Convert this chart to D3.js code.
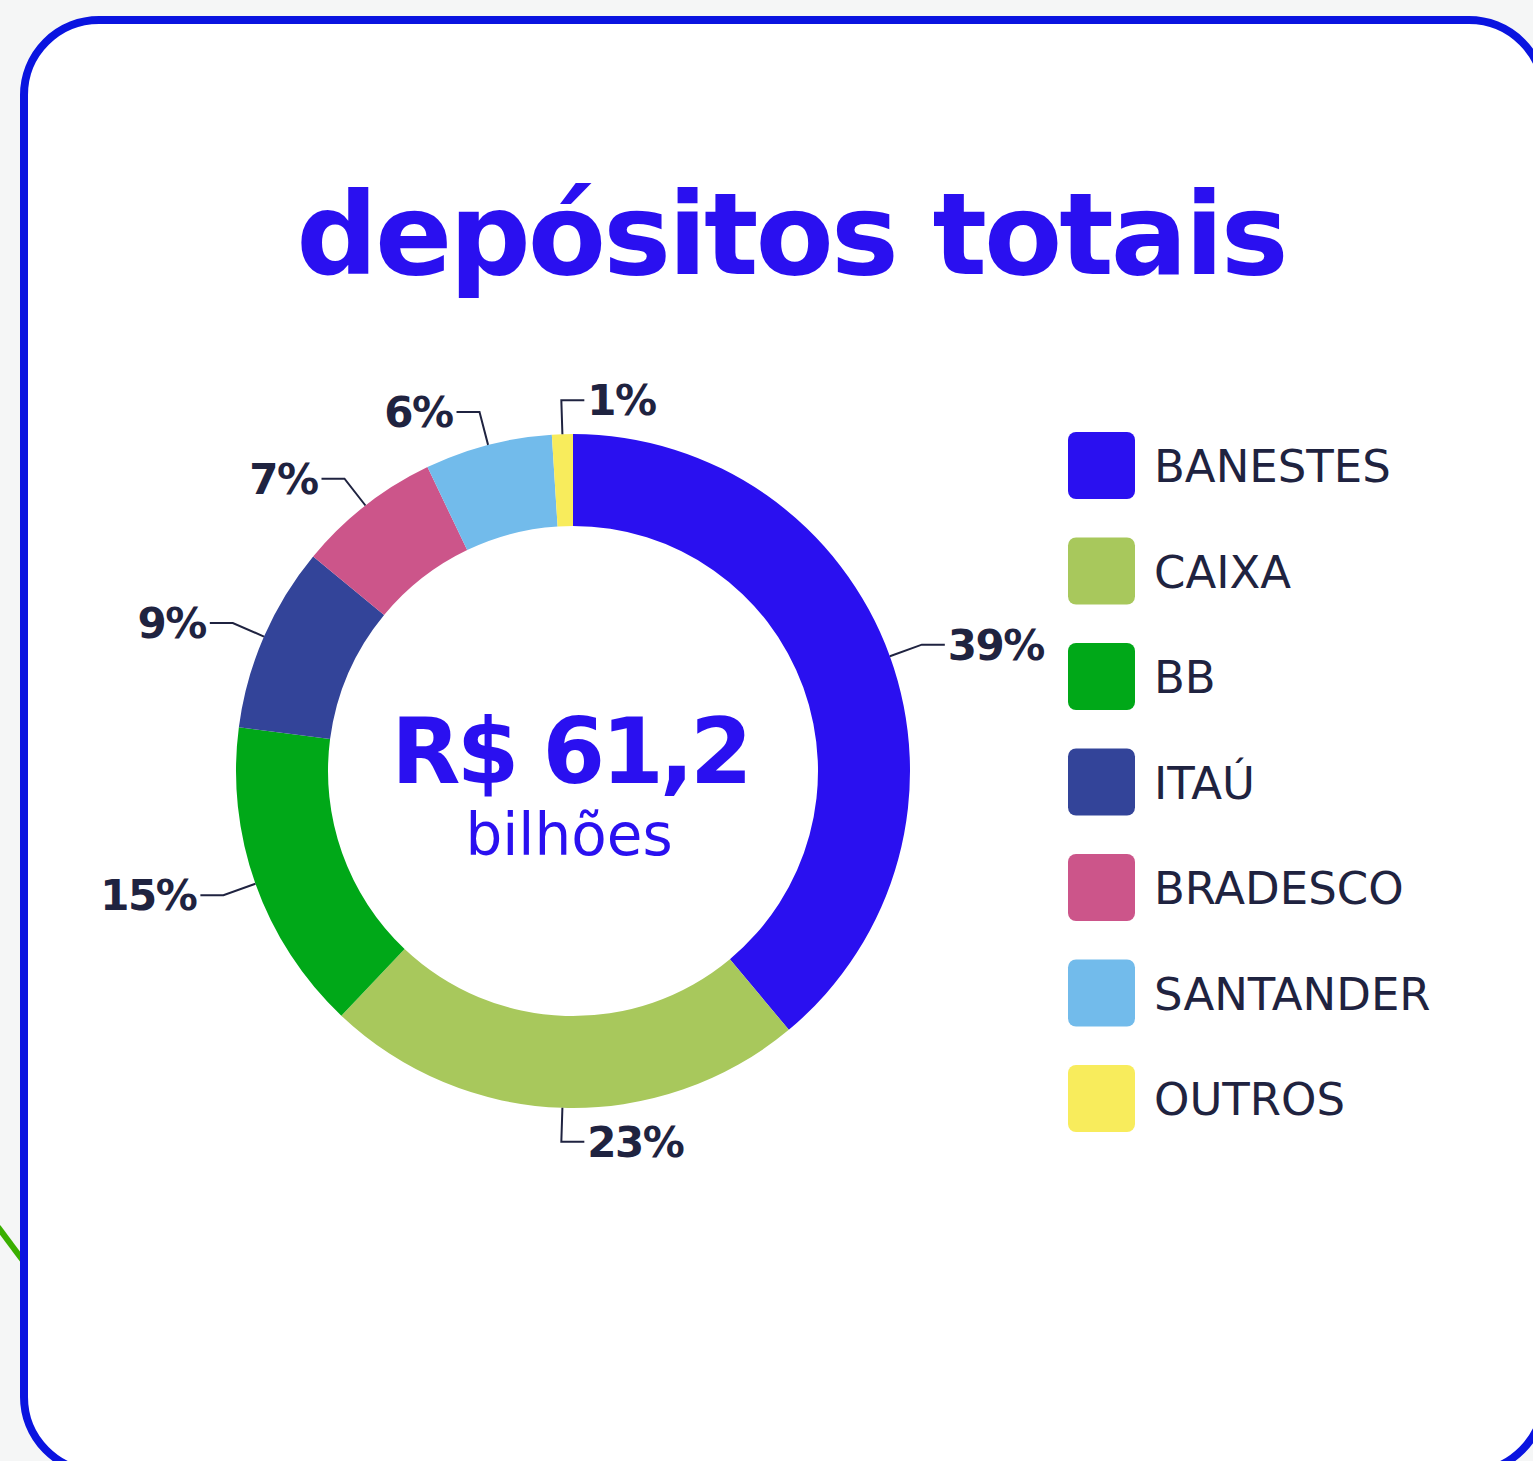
<!DOCTYPE html>
<html>
<head>
<meta charset="utf-8">
<script src="https://cdn.jsdelivr.net/npm/d3@7"></script>
<style>
  html, body { margin: 0; padding: 0; background: #f5f6f6; }
  svg { display: block; }
</style>
</head>
<body>
<div id="chart"></div>
<script>
// Data
var banks  = ["BANESTES", "CAIXA", "BB", "ITAÚ", "BRADESCO", "SANTANDER", "OUTROS"];
var shares = [38.9, 23.1, 15.0, 8.9, 6.9, 6.1, 1.0];
var colors = ["#2a10f0", "#a8c85c", "#00a818", "#334499", "#cc558a", "#72bbeb", "#f8ec5c"];
var title = "depósitos totais";
var total = "R$ 61,2";
var unit = "bilhões";

var W = 1533, H = 1461;
var font = "'DejaVu Sans', 'Open Sans', sans-serif";
var ink = "#1f2340";
var blue = "#2a10f0";

var svg = d3.select("#chart")
  .append("svg")
    .attr("width", W)
    .attr("height", H);

// background
svg.append("rect").attr("width", W).attr("height", H).attr("fill", "#f5f6f6");
svg.append("line")
  .attr("x1", -2).attr("y1", 1227).attr("x2", 24).attr("y2", 1262)
  .attr("stroke", "#3aaf00").attr("stroke-width", 6);

// card
svg.append("rect")
  .attr("x", 24).attr("y", 20)
  .attr("width", 1520).attr("height", 1452)
  .attr("rx", 75)
  .attr("fill", "#fff")
  .attr("stroke", "#0a14e0")
  .attr("stroke-width", 8);

// title
svg.append("text")
  .attr("x", 791).attr("y", 274)
  .attr("text-anchor", "middle")
  .attr("font-family", font)
  .attr("font-weight", 800)
  .attr("font-size", 114)
  .attr("letter-spacing", -3)
  .attr("fill", blue)
  .text(title);

// donut
var cx = 573, cy = 771, rOuter = 337, rInner = 245;
var g = svg.append("g").attr("transform", "translate(" + cx + "," + cy + ")");

var pie = d3.pie().sort(null).value(function(d) { return d; });
var arcs = pie(shares);
var arc = d3.arc().innerRadius(rInner).outerRadius(rOuter);

g.selectAll("path.slice")
  .data(arcs)
  .enter()
  .append("path")
    .attr("class", "slice")
    .attr("d", arc)
    .attr("fill", function(d, i) { return colors[i]; });

// labels with crooked connectors
function labelGeom(d) {
  var a = (d.startAngle + d.endAngle) / 2;
  // labels near the top/bottom seam go to the right
  var right = a < Math.PI * 1.02 || a > Math.PI * 1.98;
  var p0 = [Math.sin(a) * rOuter, -Math.cos(a) * rOuter];
  var p1 = [Math.sin(a) * (rOuter + 34), -Math.cos(a) * (rOuter + 34)];
  var p2 = [p1[0] + (right ? 23 : -23), p1[1]];
  return { right: right, pts: [p0, p1, p2] };
}

g.selectAll("path.conn")
  .data(arcs)
  .enter()
  .append("path")
    .attr("class", "conn")
    .attr("d", function(d) { return d3.line()(labelGeom(d).pts); })
    .attr("fill", "none")
    .attr("stroke", ink)
    .attr("stroke-width", 2);

g.selectAll("text.pct")
  .data(arcs)
  .enter()
  .append("text")
    .attr("class", "pct")
    .attr("x", function(d) { var l = labelGeom(d); return l.pts[2][0] + (l.right ? 3 : -4); })
    .attr("y", function(d) { return labelGeom(d).pts[2][1]; })
    .attr("dy", "0.36em")
    .attr("text-anchor", function(d) { return labelGeom(d).right ? "start" : "end"; })
    .attr("font-family", font)
    .attr("font-weight", 700)
    .attr("font-size", 42)
    .attr("letter-spacing", -1.5)
    .attr("fill", ink)
    .text(function(d) { return Math.round(d.value) + "%"; });

// center text
g.append("text")
  .attr("x", -3).attr("y", 12)
  .attr("text-anchor", "middle")
  .attr("font-family", font)
  .attr("font-weight", 700)
  .attr("font-size", 90)
  .attr("letter-spacing", -4)
  .attr("fill", blue)
  .text(total);

g.append("text")
  .attr("x", -4).attr("y", 84)
  .attr("text-anchor", "middle")
  .attr("font-family", font)
  .attr("font-size", 58)
  .attr("fill", blue)
  .text(unit);

// legend
var y = d3.scalePoint().domain(banks).range([466, 1099]);
var legend = svg.append("g")
  .selectAll("g")
  .data(banks)
  .enter()
  .append("g")
    .attr("transform", function(d) { return "translate(1068," + y(d) + ")"; });

legend.append("rect")
  .attr("x", 0).attr("y", -34)
  .attr("width", 67).attr("height", 67)
  .attr("rx", 8)
  .attr("fill", function(d, i) { return colors[i]; });

legend.append("text")
  .attr("x", 86).attr("y", 0)
  .attr("dy", "0.36em")
  .attr("font-family", font)
  .attr("font-size", 45)
  .attr("fill", ink)
  .text(function(d) { return d; });
</script>
</body>
</html>
